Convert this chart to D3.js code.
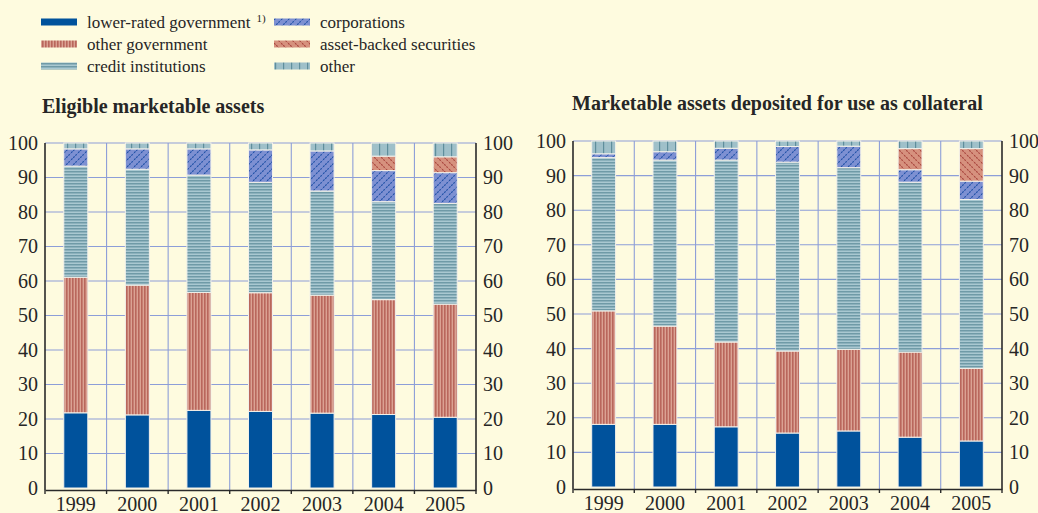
<!DOCTYPE html>
<html>
<head>
<meta charset="utf-8">
<script src="https://cdn.jsdelivr.net/npm/d3@7"></script>
<style>
  html, body { margin: 0; padding: 0; background: #fefbdf; }
  svg { display: block; }
  text { font-family: "Liberation Serif", "Times New Roman", serif; fill: #262626; }
</style>
</head>
<body>
<svg id="chart" width="1038" height="513"></svg>
<script>
const years = ['1999', '2000', '2001', '2002', '2003', '2004', '2005'];
const keys = ['lower', 'otherGov', 'credit', 'corp', 'abs', 'other'];
const legendLabels = ['lower-rated government', 'other government', 'credit institutions',
  'corporations', 'asset-backed securities', 'other'];
const yTicks = [0, 10, 20, 30, 40, 50, 60, 70, 80, 90, 100];

// eligible marketable assets (% of total)
const eligLower    = [21.8, 21.2, 22.5, 22.2, 21.7, 21.3, 20.5];
const eligOtherGov = [39.3, 37.6, 34.2, 34.4, 34.2, 33.3, 32.8];
const eligCredit   = [32.2, 33.6, 34.0, 32.0, 30.2, 28.4, 29.2];
const eligCorp     = [5.0, 5.9, 7.6, 9.4, 11.6, 9.0, 8.9];
const eligAbs      = [0, 0, 0, 0, 0, 4.2, 4.6];
const eligOther    = [1.7, 1.7, 1.7, 2.0, 2.3, 3.8, 4.0];

// marketable assets deposited as collateral (% of total)
const collLower    = [18.1, 18.1, 17.4, 15.6, 16.2, 14.4, 13.3];
const collOtherGov = [32.8, 28.4, 24.5, 23.7, 23.6, 24.6, 21.0];
const collCredit   = [44.3, 48.0, 52.6, 54.6, 52.5, 49.1, 48.8];
const collCorp     = [1.1, 2.4, 3.4, 4.5, 6.2, 3.6, 5.3];
const collAbs      = [0, 0, 0, 0, 0, 6.1, 9.4];
const collOther    = [3.7, 3.1, 2.1, 1.6, 1.5, 2.2, 2.2];

const toRows = (arrs) => years.map((y, i) => {
  const row = { year: y };
  keys.forEach((k, j) => { row[k] = arrs[j][i]; });
  return row;
});

const eligRows = toRows([eligLower, eligOtherGov, eligCredit, eligCorp, eligAbs, eligOther]);
const collRows = toRows([collLower, collOtherGov, collCredit, collCorp, collAbs, collOther]);

const svg = d3.select('#chart');
const defs = svg.append('defs');
const font = '"Liberation Serif", "Times New Roman", serif';

// fill patterns
const addPattern = (id, w, h, bg, draw) => {
  const p = defs.append('pattern')
    .attr('id', id)
    .attr('patternUnits', 'userSpaceOnUse')
    .attr('width', w)
    .attr('height', h);
  p.append('rect').attr('width', w).attr('height', h).attr('fill', bg);
  draw(p);
};

addPattern('pOtherGov', 3, 3, '#dba293', p => {
  p.append('rect').attr('x', 0).attr('width', 1.6).attr('height', 3).attr('fill', '#b9675c');
});
addPattern('pCredit', 3, 3, '#a9c8d1', p => {
  p.append('rect').attr('y', 0).attr('width', 3).attr('height', 1.5).attr('fill', '#6f9aa7');
});
addPattern('pOther', 8, 4, '#9fc0c9', p => {
  p.append('rect').attr('x', 3).attr('width', 1.2).attr('height', 4).attr('fill', '#5f8e9c');
});
addPattern('pCorp', 7, 7, '#7d90d2', p => {
  p.append('path').attr('d', 'M-1,8 L8,-1').attr('stroke', '#1d4fa6')
    .attr('stroke-width', 1.1).attr('stroke-dasharray', '2,1');
});
addPattern('pAbs', 7, 7, '#d6917e', p => {
  p.append('path').attr('d', 'M-1,-1 L8,8').attr('stroke', '#a8443c')
    .attr('stroke-width', 1.1).attr('stroke-dasharray', '2,1');
});

const fills = {
  lower: '#00529c',
  otherGov: 'url(#pOtherGov)',
  credit: 'url(#pCredit)',
  corp: 'url(#pCorp)',
  abs: 'url(#pAbs)',
  other: 'url(#pOther)'
};

// legend
const legendCols = [41, 274];
const legendRows = [22, 44, 66];
const legend = svg.append('g');
legendLabels.forEach((label, i) => {
  const col = i < 3 ? 0 : 1;
  const row = i % 3;
  const x = legendCols[col];
  const y = legendRows[row];
  legend.append('rect')
    .attr('x', x).attr('y', y - 3.5)
    .attr('width', 36).attr('height', 7)
    .attr('fill', fills[keys[i]]);
  const t = legend.append('text')
    .attr('x', x + 46).attr('y', y + 5.5)
    .attr('font-size', 17)
    .text(label);
  if (i === 0) {
    t.append('tspan').attr('dx', 6).attr('dy', -6).attr('font-size', 11).text('1)');
  }
});

const drawPanel = (rows, opts) => {
  const g = svg.append('g');

  const x = d3.scaleBand().domain(years).range([opts.left, opts.right]).padding(0);
  const y = d3.scaleLinear().domain([0, 100]).range([opts.bottom, opts.top]);
  const barW = x.bandwidth() * 0.39;

  // grid
  g.append('g')
    .selectAll('line')
    .data(yTicks.slice(1))
    .enter().append('line')
      .attr('x1', opts.left).attr('x2', opts.right)
      .attr('y1', d => y(d)).attr('y2', d => y(d))
      .attr('stroke', '#8d9ed8').attr('stroke-width', 1.1);

  g.append('g')
    .selectAll('line')
    .data(years.slice(1))
    .enter().append('line')
      .attr('x1', d => x(d)).attr('x2', d => x(d))
      .attr('y1', y(100)).attr('y2', y(0) + 2)
      .attr('stroke', '#8d9ed8').attr('stroke-width', 1.1);

  // stacked bars
  const stacked = d3.stack().keys(keys)(rows);
  g.append('g')
    .selectAll('g')
    .data(stacked)
    .enter().append('g')
      .attr('fill', d => fills[d.key])
    .selectAll('rect')
    .data(d => d.filter(s => s[1] - s[0] > 0))
    .enter().append('rect')
      .attr('x', d => x(d.data.year) + (x.bandwidth() - barW) / 2)
      .attr('width', barW)
      .attr('y', d => y(d[1]))
      .attr('height', d => y(d[0]) - y(d[1]))
      .attr('stroke', '#f3f1ea')
      .attr('stroke-width', 1);

  // axes
  const axisColor = '#2a2a2a';
  g.append('line')
    .attr('x1', opts.left).attr('x2', opts.left)
    .attr('y1', y(100)).attr('y2', y(0) + 2)
    .attr('stroke', axisColor).attr('stroke-width', 1.6);
  g.append('line')
    .attr('x1', opts.right).attr('x2', opts.right)
    .attr('y1', y(100)).attr('y2', y(0) + 2)
    .attr('stroke', axisColor).attr('stroke-width', 1.6);

  const leftAxis = g.append('g')
    .attr('transform', `translate(${opts.left},0)`)
    .call(d3.axisLeft(y).tickValues(yTicks).tickSize(0).tickPadding(7));
  const rightAxis = g.append('g')
    .attr('transform', `translate(${opts.right},0)`)
    .call(d3.axisRight(y).tickValues(yTicks).tickSize(0).tickPadding(7));
  [leftAxis, rightAxis].forEach(a => {
    a.attr('font-family', font).attr('font-size', 20);
    a.select('.domain').remove();
    a.selectAll('text').attr('fill', '#262626');
  });

  const bottomAxis = g.append('g')
    .attr('transform', `translate(0,${y(0) + 2})`)
    .call(d3.axisBottom(x).tickSize(0).tickPadding(7));
  bottomAxis.attr('font-family', font).attr('font-size', 20);
  bottomAxis.select('.domain').attr('stroke', axisColor).attr('stroke-width', 1.6);
  bottomAxis.selectAll('text').attr('fill', '#262626');

  // small tick marks at the category boundaries
  g.append('g')
    .selectAll('line')
    .data(years.concat(['end']))
    .enter().append('line')
      .attr('x1', (d, i) => i < years.length ? x(d) : opts.right)
      .attr('x2', (d, i) => i < years.length ? x(d) : opts.right)
      .attr('y1', y(0) + 2).attr('y2', y(0) + 6)
      .attr('stroke', axisColor).attr('stroke-width', 1.4);

  svg.append('text')
    .attr('x', opts.titleX).attr('y', opts.titleY)
    .attr('font-size', 20)
    .attr('font-weight', 'bold')
    .text(opts.title);
};

drawPanel(eligRows, {
  left: 45, right: 476, top: 143, bottom: 488,
  title: 'Eligible marketable assets', titleX: 42, titleY: 113
});

drawPanel(collRows, {
  left: 573, right: 1002, top: 141, bottom: 487,
  title: 'Marketable assets deposited for use as collateral', titleX: 572, titleY: 110
});
</script>
</body>
</html>
